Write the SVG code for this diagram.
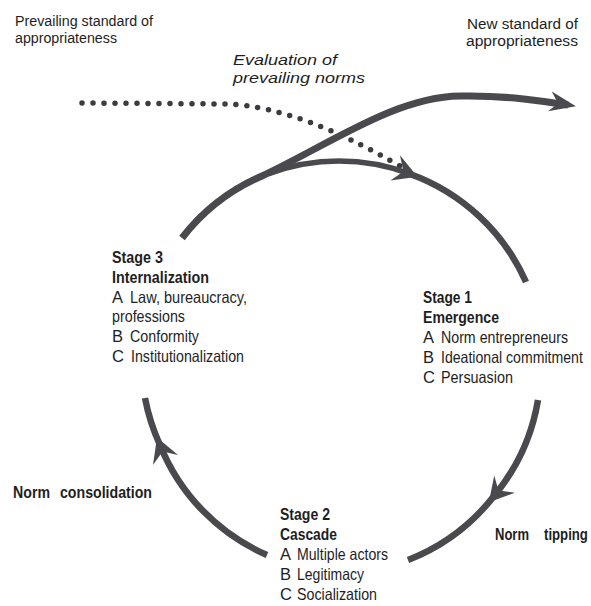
<svg xmlns="http://www.w3.org/2000/svg" width="591" height="606" viewBox="0 0 591 606">
<defs>
<style>
text{font-family:"Liberation Sans",Arial,sans-serif;fill:#1e1e1e}
.r{font-size:16.5px}
.b{font-size:17px;font-weight:bold}
.h{font-size:15.5px}
.i{font-size:15px;font-style:italic}
.arc{fill:none;stroke:#4a4a4e;stroke-width:6.5;stroke-linecap:butt}
.dots{fill:none;stroke:#3c3c40;stroke-width:5.5;stroke-linecap:round;stroke-dasharray:0 11}
</style>
<marker id="ah" markerUnits="userSpaceOnUse" viewBox="-26 -15 30 30" markerWidth="30" markerHeight="30" refX="-8" refY="0" orient="auto" overflow="visible">
<path d="M0,0 L-24,-14 L-15,0 L-24,13 Z" fill="#4a4a4e"/>
</marker>
<marker id="ah2" markerUnits="userSpaceOnUse" viewBox="-28 -12 32 24" markerWidth="32" markerHeight="24" refX="-8" refY="0" orient="auto" overflow="visible">
<path d="M0,0 L-26,-11 L-18,0 L-27,9 Z" fill="#4a4a4e"/>
</marker>
</defs>
<g id="connectors">
<path id="evaluation-dots" class="dots" d="M82,103 L230,104 Q300,108 400,166"/>
<path id="new-standard-arrow" class="arc" style="stroke-width:7" d="M182,238 A202,202 0 0 1 262,176 C330,144 395,97 460,96 C505,95 540,101 568,105" marker-end="url(#ah2)"/>
<path id="emergence-arrow" class="arc" style="stroke-width:5.5" d="M268,174 A202,202 0 0 1 410,174" marker-end="url(#ah)"/>
<path class="arc" d="M410,174 A202,202 0 0 1 526,282"/>
<path id="norm-tipping-arrow" class="arc" d="M538,400 A202,202 0 0 1 494,496" marker-end="url(#ah)"/>
<path class="arc" d="M494,496 A202,202 0 0 1 408,560"/>
<path id="norm-consolidation-arrow" class="arc" d="M267,555 A202,202 0 0 1 160,445" marker-end="url(#ah)"/>
<path class="arc" d="M160,445 A202,202 0 0 1 145,398"/>
</g>
<g id="prevailing-standard">
<text class="h" x="15" y="26" textLength="138" lengthAdjust="spacingAndGlyphs">Prevailing standard of</text>
<text class="h" x="15" y="43" textLength="102" lengthAdjust="spacingAndGlyphs">appropriateness</text>
</g>
<g id="new-standard">
<text class="h" x="467" y="29" textLength="111" lengthAdjust="spacingAndGlyphs">New standard of</text>
<text class="h" x="466" y="46" textLength="112" lengthAdjust="spacingAndGlyphs">appropriateness</text>
</g>
<g id="evaluation">
<text class="i" x="233" y="65" textLength="104" lengthAdjust="spacingAndGlyphs">Evaluation of</text>
<text class="i" x="233" y="83" textLength="132" lengthAdjust="spacingAndGlyphs">prevailing norms</text>
</g>
<g id="stage3">
<text class="b" x="112" y="263" textLength="51" lengthAdjust="spacingAndGlyphs">Stage 3</text>
<text class="b" x="112" y="283" textLength="97" lengthAdjust="spacingAndGlyphs">Internalization</text>
<text class="r" x="112" y="303">A</text>
<text class="r" x="130" y="303" textLength="117" lengthAdjust="spacingAndGlyphs">Law, bureaucracy,</text>
<text class="r" x="112" y="322" textLength="73" lengthAdjust="spacingAndGlyphs">professions</text>
<text class="r" x="112" y="342">B</text>
<text class="r" x="130" y="342" textLength="69" lengthAdjust="spacingAndGlyphs">Conformity</text>
<text class="r" x="112" y="362">C</text>
<text class="r" x="131" y="362" textLength="113" lengthAdjust="spacingAndGlyphs">Institutionalization</text>
</g>
<g id="stage1">
<text class="b" x="423" y="303" textLength="49" lengthAdjust="spacingAndGlyphs">Stage 1</text>
<text class="b" x="423" y="323" textLength="76" lengthAdjust="spacingAndGlyphs">Emergence</text>
<text class="r" x="423" y="343">A</text>
<text class="r" x="441" y="343" textLength="127" lengthAdjust="spacingAndGlyphs">Norm entrepreneurs</text>
<text class="r" x="423" y="363">B</text>
<text class="r" transform="translate(441,363) scale(0.855,1)">Ideational commitment</text>
<text class="r" x="423" y="383">C</text>
<text class="r" x="441" y="383" textLength="72" lengthAdjust="spacingAndGlyphs">Persuasion</text>
</g>
<g id="stage2">
<text class="b" x="280" y="520" textLength="50" lengthAdjust="spacingAndGlyphs">Stage 2</text>
<text class="b" x="280" y="540" textLength="57" lengthAdjust="spacingAndGlyphs">Cascade</text>
<text class="r" x="280" y="560">A</text>
<text class="r" x="297" y="560" textLength="91" lengthAdjust="spacingAndGlyphs">Multiple actors</text>
<text class="r" x="280" y="580">B</text>
<text class="r" x="297" y="580" textLength="67" lengthAdjust="spacingAndGlyphs">Legitimacy</text>
<text class="r" x="280" y="600">C</text>
<text class="r" x="297" y="600" textLength="80" lengthAdjust="spacingAndGlyphs">Socialization</text>
</g>
<g id="norm-consolidation">
<text class="b" x="13" y="498"><tspan textLength="37" lengthAdjust="spacingAndGlyphs">Norm</tspan><tspan x="60" textLength="92" lengthAdjust="spacingAndGlyphs">consolidation</tspan></text>
</g>
<g id="norm-tipping">
<text class="b" x="495" y="540" textLength="34" lengthAdjust="spacingAndGlyphs">Norm</text>
<text class="b" transform="translate(544,540) scale(0.776,1)">tipping</text>
</g>
</svg>
